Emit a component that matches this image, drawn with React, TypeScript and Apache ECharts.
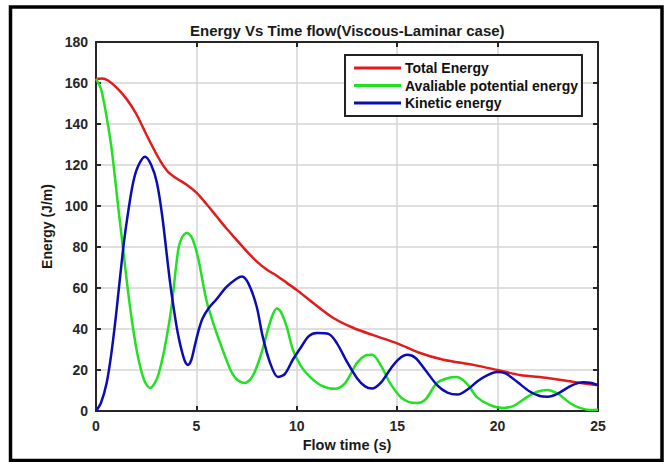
import React, { useEffect, useRef } from "react";
import * as echarts from "echarts";

const xTicks = [0, 5, 10, 15, 20, 25];
const yTicks = [0, 20, 40, 60, 80, 100, 120, 140, 160, 180];

const totalT = [0, 0.3, 0.6, 1.0, 1.5, 2.0, 2.5, 3.0, 3.3, 3.6, 4.0, 4.5, 5.0, 5.5, 6.0, 6.5, 7.0, 7.5, 8.0, 8.5, 9.0, 9.5, 10.0, 10.8, 11.8, 12.8, 13.8, 15.0, 16.1, 17.3, 18.8, 20.0, 21.1, 22.5, 23.8, 25.0];
const totalE = [162, 162.2, 161.2, 158, 152.5, 145, 135, 125.5, 120.5, 116.5, 113.5, 110.5, 106.5, 101, 95, 89, 83.5, 78, 73, 69, 66, 62.5, 59, 52.8, 45.5, 40.6, 37, 33, 28.4, 25, 22.5, 20, 17.6, 16.1, 14.2, 12.5];

const apeT = [0, 0.25, 0.5, 0.78, 1.1, 1.35, 1.6, 1.85, 2.1, 2.4, 2.69, 3.0, 3.25, 3.5, 3.75, 4.1, 4.3, 4.53, 4.8, 5.1, 5.5, 5.9, 6.3, 6.7, 7.0, 7.42, 7.8, 8.2, 8.6, 8.8, 9.0, 9.2, 9.5, 9.8, 10.2, 10.66, 11.2, 11.9, 12.4, 13.0, 13.4, 13.75, 14.2, 14.64, 15.2, 15.6, 16.0, 16.4, 16.98, 17.5, 17.98, 18.5, 18.97, 19.6, 20.27, 20.8, 21.46, 22.0, 22.46, 23.0, 23.6, 24.1, 24.6, 25.0];
const apeE = [162, 157, 145, 127.7, 100, 79, 58, 40, 26, 15, 11.2, 15, 23, 35, 50, 79, 85, 87, 84, 74, 54, 41, 30, 20, 15.5, 13.7, 17, 27, 41, 47, 50, 48.5, 41, 30, 22, 16.6, 12.5, 10.8, 13.5, 23.5, 27, 27.4, 22, 13.7, 6.5, 4.3, 3.9, 5.5, 13.7, 16, 16.6, 13, 6.8, 3, 1.5, 2.5, 6.8, 9.5, 10.3, 8.5, 3.9, 1.5, 0.5, 0.6];

const keT = [0, 0.25, 0.53, 0.75, 1.0, 1.35, 1.6, 1.85, 2.1, 2.44, 2.75, 3.03, 3.3, 3.69, 4.0, 4.18, 4.4, 4.58, 4.75, 4.9, 5.1, 5.3, 5.6, 6.0, 6.5, 7.0, 7.27, 7.6, 8.0, 8.3, 8.67, 9.06, 9.4, 9.8, 10.2, 10.6, 11.0, 11.6, 12.0, 12.5, 13.0, 13.4, 13.75, 14.2, 14.7, 15.1, 15.5, 15.9, 16.4, 17.0, 17.5, 18.0, 18.5, 19.0, 19.5, 19.97, 20.4, 21.0, 21.6, 22.1, 22.5, 23.0, 23.6, 24.0, 24.3, 24.6, 25.0];
const keE = [0, 4, 13.7, 27, 47, 79, 97, 111.5, 119.5, 124, 120, 111.5, 95, 62.6, 42, 33, 25, 22.5, 25, 31, 39, 45, 50, 54.5, 60.5, 64.5, 65.6, 62, 51, 36.4, 23.5, 16.6, 18, 25, 31, 36.5, 38, 37.5, 33, 24, 16, 12, 11, 14, 21, 25.5, 27.4, 26, 20, 12.5, 9, 8, 10.5, 14.5, 17.5, 19, 18.3, 14, 9.5, 7.3, 7, 8.5, 12, 13.6, 14, 13.8, 12.7];

const pairs = (t: number[], e: number[]) => t.map((v, i) => [v, e[i]]);

const FONT = "'Liberation Sans', Arial, sans-serif";
const AX = "#262626";

export default function App() {
  const ref = useRef<HTMLDivElement>(null);
  useEffect(() => {
    if (!ref.current) return;
    const chart = echarts.init(ref.current, undefined, { renderer: "svg" });
    const labelStyle = { color: AX, fontFamily: FONT, fontWeight: "bold" as const, fontSize: 14 };
    chart.setOption({
      animation: false,
      backgroundColor: "#ffffff",
      title: {
        text: "Energy Vs Time flow(Viscous-Laminar case)",
        left: 190,
        top: 23,
        padding: 0,
        textStyle: { color: "#1a1a1a", fontFamily: FONT, fontWeight: "bold", fontSize: 15 },
      },
      legend: {
        orient: "vertical",
        left: 345,
        top: 55,
        padding: [6, 4, 6, 9],
        itemGap: 3.5,
        itemWidth: 47,
        itemHeight: 3,
        icon: "rect",
        borderColor: "#222",
        borderWidth: 2,
        backgroundColor: "#fff",
        textStyle: { color: "#111", fontFamily: FONT, fontWeight: "bold", fontSize: 14, padding: [0, 0, 0, -1] },
        data: ["Total Energy", "Avaliable potential energy", "Kinetic energy"],
      },
      grid: { left: 96, right: 67, top: 42, bottom: 51 },
      graphic: [
        {
          type: "rect",
          shape: { x: 10.5, y: 7, width: 651.5, height: 453.5 },
          style: { fill: "none", stroke: "#000", lineWidth: 3.5 },
          silent: true,
          z: 100,
        },
      ],
      xAxis: [
        {
          type: "value",
          min: xTicks[0],
          max: xTicks[xTicks.length - 1],
          interval: 5,
          name: "Flow time (s)",
          nameLocation: "middle",
          nameGap: 26,
          nameTextStyle: { ...labelStyle, fontSize: 14.5, color: "#1a1a1a" },
          axisLine: { show: true, lineStyle: { color: AX, width: 2 } },
          axisTick: { show: true, inside: true, length: 5, lineStyle: { color: AX, width: 2 } },
          axisLabel: { ...labelStyle, margin: 8 },
          splitLine: { show: true, lineStyle: { color: "#d4d4d4", width: 1.5 } },
        },
        {
          type: "value",
          position: "top",
          min: xTicks[0],
          max: xTicks[xTicks.length - 1],
          interval: 5,
          axisLine: { show: true, onZero: false, lineStyle: { color: AX, width: 2 } },
          axisTick: { show: true, inside: true, length: 5, lineStyle: { color: AX, width: 2 } },
          axisLabel: { show: false },
          splitLine: { show: false },
        },
      ],
      yAxis: [
        {
          type: "value",
          min: yTicks[0],
          max: yTicks[yTicks.length - 1],
          interval: 20,
          name: "Energy (J/m)",
          nameLocation: "middle",
          nameGap: 38,
          nameTextStyle: { ...labelStyle, fontSize: 14, color: "#1a1a1a" },
          axisLine: { show: true, lineStyle: { color: AX, width: 2 } },
          axisTick: { show: true, inside: true, length: 5, lineStyle: { color: AX, width: 2 } },
          axisLabel: { ...labelStyle, margin: 8 },
          splitLine: { show: true, lineStyle: { color: "#d4d4d4", width: 1.5 } },
        },
        {
          type: "value",
          position: "right",
          min: yTicks[0],
          max: yTicks[yTicks.length - 1],
          interval: 20,
          axisLine: { show: true, onZero: false, lineStyle: { color: AX, width: 2 } },
          axisTick: { show: true, inside: true, length: 5, lineStyle: { color: AX, width: 2 } },
          axisLabel: { show: false },
          splitLine: { show: false },
        },
      ],
      series: [
        {
          name: "Total Energy",
          type: "line",
          data: pairs(totalT, totalE),
          smooth: 0.3,
          symbol: "none",
          itemStyle: { color: "#e21b1b" },
          lineStyle: { color: "#e21b1b", width: 2.5 },
          z: 3,
        },
        {
          name: "Avaliable potential energy",
          type: "line",
          data: pairs(apeT, apeE),
          smooth: 0.3,
          symbol: "none",
          itemStyle: { color: "#22e022" },
          lineStyle: { color: "#22e022", width: 2.5 },
          z: 3,
        },
        {
          name: "Kinetic energy",
          type: "line",
          data: pairs(keT, keE),
          smooth: 0.3,
          symbol: "none",
          itemStyle: { color: "#0c0cb4" },
          lineStyle: { color: "#0c0cb4", width: 2.5 },
          z: 4,
        },
      ],
    });
    return () => chart.dispose();
  }, []);
  return (
    <div
      ref={ref}
      style={{ position: "fixed", left: 0, top: 0, width: 665, height: 462, background: "#fff" }}
    />
  );
}
